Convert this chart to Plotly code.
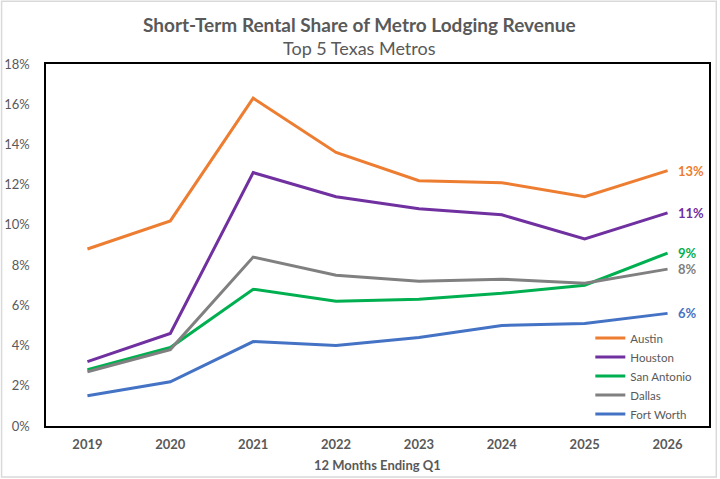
import plotly.graph_objects as go

years = ["2019", "2020", "2021", "2022", "2023", "2024", "2025", "2026"]

austin = [8.8, 10.2, 16.3, 13.6, 12.2, 12.1, 11.4, 12.7]
houston = [3.2, 4.6, 12.6, 11.4, 10.8, 10.5, 9.3, 10.6]
san_antonio = [2.8, 3.9, 6.8, 6.2, 6.3, 6.6, 7.0, 8.6]
dallas = [2.7, 3.8, 8.4, 7.5, 7.2, 7.3, 7.1, 7.8]
fort_worth = [1.5, 2.2, 4.2, 4.0, 4.4, 5.0, 5.1, 5.6]

end_labels = ["13%", "11%", "9%", "8%", "6%"]

series = [
    ("Austin", austin, "#ED7D31"),
    ("Houston", houston, "#7030A0"),
    ("San Antonio", san_antonio, "#00B050"),
    ("Dallas", dallas, "#808080"),
    ("Fort Worth", fort_worth, "#4472C4"),
]

font = "Lato, Open Sans, sans-serif"
grey = "#595959"

fig = go.Figure()
for name, vals, color in series:
    fig.add_trace(go.Scatter(
        x=years, y=[v / 100 for v in vals], name=name, mode="lines",
        line=dict(color=color, width=3),
    ))

# value labels at the right end of each line (x as category index)
for (name, vals, color), lab in zip(series, end_labels):
    fig.add_annotation(
        x=len(years) - 1, y=vals[-1] / 100, text="<b>" + lab + "</b>",
        showarrow=False, xanchor="left", yanchor="middle", xshift=8,
        font=dict(family=font, size=13, color=color),
    )

fig.add_annotation(
    x=0.4736, y=1.11, xref="paper", yref="paper", showarrow=False,
    xanchor="center", yanchor="middle",
    text="<b>Short-Term Rental Share of Metro Lodging Revenue</b>",
    font=dict(family=font, size=19, color=grey),
)
fig.add_annotation(
    x=0.4736, y=1.045, xref="paper", yref="paper", showarrow=False,
    xanchor="center", yanchor="middle",
    text="Top 5 Texas Metros",
    font=dict(family=font, size=18, color=grey),
)
fig.add_annotation(
    x=0.5, y=-0.108, xref="paper", yref="paper", showarrow=False,
    xanchor="center", yanchor="middle",
    text="<b>12 Months Ending Q1</b>",
    font=dict(family=font, size=13, color=grey),
)

# light frame around the chart area, like the Excel chart border
fig.add_shape(
    type="rect", xref="paper", yref="paper",
    x0=-0.067, x1=1.011, y0=-0.141, y1=1.173,
    line=dict(color="#D9D9D9", width=1.5),
)

fig.update_xaxes(
    type="category", range=[-0.5, 7.5], showgrid=False, zeroline=False,
    showline=True, linecolor="black", linewidth=1.5, mirror=True,
    ticks="", ticklabelstandoff=6, automargin=False,
    tickfont=dict(family=font, size=13, color=grey, weight="bold"),
)
fig.update_yaxes(
    range=[0, 0.18], dtick=0.02, tickformat=".0%", showgrid=False,
    zeroline=False, showline=True, linecolor="black", linewidth=1.5,
    mirror=True, ticks="", ticklabelstandoff=12, automargin=False,
    tickfont=dict(family=font, size=13, color=grey),
)

fig.update_layout(
    width=720, height=479,
    margin=dict(l=46, r=11, t=64, b=53),
    paper_bgcolor="white", plot_bgcolor="white",
    showlegend=True,
    legend=dict(
        x=0.821, y=0.283, xanchor="left", yanchor="top",
        bgcolor="rgba(0,0,0,0)", itemwidth=30,
        font=dict(family=font, size=11.5, color=grey),
        tracegroupgap=0,
    ),
)

fig.write_html(
    "out.html",
    config={"displayModeBar": False},
    post_script="document.body.style.margin='0';",
)
